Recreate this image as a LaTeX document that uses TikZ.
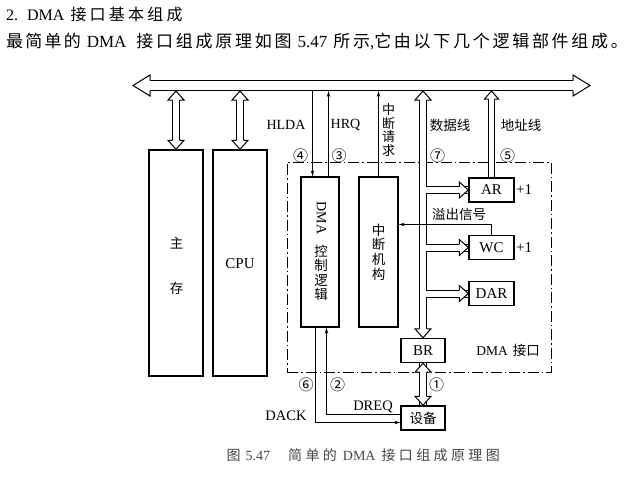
\documentclass[tikz,border=0pt]{standalone}
\usepackage{fontspec}
\setmainfont{Liberation Serif}
\newfontfamily\cjk{Noto Sans CJK SC}
\usetikzlibrary{arrows.meta}
\newcommand\zh[2][0]{{\cjk\addfontfeature{LetterSpace=#1}#2}}
\begin{document}
\begin{tikzpicture}[x=1pt,y=-1pt,
  box/.style={draw, line width=1.4pt, inner sep=0pt},
  lat/.style={inner sep=0pt, font=\fontsize{14}{14}\selectfont},
  blat/.style={inner sep=0pt, font=\fontsize{15}{15}\selectfont},
  zhl/.style={inner sep=0pt, font=\cjk\fontsize{13.5}{13.5}\selectfont},
  circ/.style={inner sep=0pt, font=\cjk\fontsize{15}{15}\selectfont},
  thinln/.style={line width=0.9pt},
  arr/.style={thinln, -{Stealth[length=6pt,width=3.4pt]}},
  dd/.style={draw, line width=0.9pt, dash pattern=on 11pt off 3pt on 1.5pt off 3pt, inner sep=0pt},
  outA/.style={line width=8pt},
  inA/.style={line width=6pt, white},
  outB/.style={line width=11pt},
  inB/.style={line width=9pt, white},
  outS/.style={line width=7pt},
  inS/.style={line width=5pt, white},
  hd/.pic={\filldraw[fill=white, line width=1pt, line join=miter] (-3.5,9) -- (-8,9) -- (0,0) -- (8,9) -- (3.5,9);},
  hdB/.pic={\filldraw[fill=white, line width=1pt, line join=miter] (-5,17) -- (-10.5,17) -- (0,0) -- (10.5,17) -- (5,17);},
  hdS/.pic={\filldraw[fill=white, line width=1pt, line join=miter] (-3,8) -- (-7,8) -- (0,0) -- (7,8) -- (3,8);}
]
\useasboundingbox (0,0) rectangle (637,477);
\fill[white] (0,0) rectangle (637,477);

% header text
\node[anchor=west, inner sep=0pt, font=\fontsize{16}{16}\selectfont] (h1) at (6,14)
  {2.\hspace{9pt}DMA\hspace{6pt}\zh[20]{接口基本组成}};
\node[anchor=west, inner sep=0pt, font=\fontsize{17}{17}\selectfont] (h2) at (6,42)
  {\zh[13]{最简单的}\hspace{6pt}DMA\hspace{10pt}\zh[16]{接口组成原理如图}\hspace{6pt}5.47\hspace{6pt}\zh[16]{所示},\zh[16]{它由以下几个逻辑部件组成。}};

% coordinates on the bus
\coordinate (busL) at (133,85.5);
\coordinate (busR) at (590,85.5);
\coordinate (busbot) at (0,91);
\coordinate (dbus) at (423,0);

% boxes
\node[box, minimum width=54pt, minimum height=226pt] (mem) at (176,263) {};
\node[box, minimum width=54pt, minimum height=226pt] (cpu) at (240,263) {};
\node[box, minimum width=38pt, minimum height=150pt] (dma) at (320,252) {};
\node[box, minimum width=39pt, minimum height=150pt] (intr) at (378.5,252) {};
\node[box, minimum width=45pt, minimum height=24pt, blat] (AR) at (491.5,190) {AR};
\node[box, minimum width=45pt, minimum height=24pt, blat] (WC) at (491.5,247.5) {WC};
\node[box, minimum width=45pt, minimum height=24pt, blat] (DAR) at (491.5,293.5) {DAR};
\node[box, minimum width=44pt, minimum height=24pt, blat] (BR) at (423,350.5) {BR};
\node[box, minimum width=44pt, minimum height=24pt, zhl] (dev) at (423,418) {设备};

% dash-dot interface frame
\node[dd, minimum width=264pt, minimum height=210pt] (iface) at (419,267) {};

% box texts
\node[zhl] (memA) at (176.5,243) {主};
\node[zhl] (memB) at (176.5,288) {存};
\node[blat] (cpuT) at (240,263.5) {CPU};
\node[lat, rotate=-90] (dmaT) at (321.5,218) {DMA};
\node[zhl, align=center, font=\cjk\fontsize{13.5}{14.3}\selectfont] (dmaZ) at (321,273) {控\\制\\逻\\辑};
\node[zhl, align=center, font=\cjk\fontsize{13.5}{14.7}\selectfont] (intrT) at (378.5,252) {中\\断\\机\\构};

% ---- double (hollow) arrows: black layer
\draw[outB] (149.5,85.5) -- (573.5,85.5);
\draw[outA] (mem.north |- 0,99) -- (mem.north |- 0,142);
\draw[outA] (cpu.north |- 0,99) -- (cpu.north |- 0,142);
\draw[outA] (dbus |- 0,99) -- (dbus |- 0,330);
\draw[outA] (dbus |- AR.west) -- (AR.west);
\draw[outA] (dbus |- WC.west) -- (WC.west);
\draw[outA] (dbus |- DAR.west) -- (DAR.west);
\draw[outS] (AR.north) -- (AR.north |- 0,98);
\draw[outA] (BR.south) -- (dev.north);
% white layer
\draw[inB] (149.5,85.5) -- (573.5,85.5);
\draw[inA] (mem.north |- 0,99) -- (mem.north |- 0,142);
\draw[inA] (cpu.north |- 0,99) -- (cpu.north |- 0,142);
\draw[inA] (dbus |- 0,99) -- (dbus |- 0,330);
\draw[inA] (dbus |- AR.west) -- (AR.west);
\draw[inA] (dbus |- WC.west) -- (WC.west);
\draw[inA] (dbus |- DAR.west) -- (DAR.west);
\draw[inS] (AR.north) -- (AR.north |- 0,98);
\draw[inA] (BR.south) -- (dev.north);
% heads
\pic[rotate=90] at (busL) {hdB};
\pic[rotate=-90] at (busR) {hdB};
\pic at (mem.north |- busbot) {hd};
\pic[rotate=180] at (mem.north) {hd};
\pic at (cpu.north |- busbot) {hd};
\pic[rotate=180] at (cpu.north) {hd};
\pic at (dbus |- busbot) {hd};
\pic[rotate=180] at (BR.north) {hd};
\pic[rotate=-90] at (AR.west) {hd};
\pic[rotate=-90] at (WC.west) {hd};
\pic[rotate=-90] at (DAR.west) {hd};
\pic at (AR.north |- busbot) {hdS};
\pic at (BR.south) {hd};
\pic[rotate=180] at (dev.north) {hd};

% thin signal lines
\coordinate (hlda) at (312.5,0);
\coordinate (hrq) at (328.5,0);
\coordinate (ovf) at (0,224.5);
\coordinate (dreq) at (326.5,414.5);
\coordinate (dack) at (315.5,422.5);
\draw[arr] (hlda |- busbot) -- (hlda |- dma.north);
\draw[arr] (hrq |- dma.north) -- (hrq |- busbot);
\draw[arr] (intr.north) -- (intr.north |- busbot);
\draw[arr] (WC.north) |- (intr.east |- ovf);
\draw[arr] (dev.west |- dreq) -- (dreq) -- (dreq |- dma.south);
\draw[arr] (dack |- dma.south) -- (dack) -- (dack -| dev.west);

% labels
\node[lat] (lhlda) at (286,125) {HLDA};
\node[lat] (lhrq) at (345.5,125) {HRQ};
\node[zhl, align=center, font=\cjk\fontsize{13}{13.5}\selectfont] (lint) at (388.5,130) {中\\断\\请\\求};
\node[zhl] (ldata) at (450,125) {数据线};
\node[zhl] (laddr) at (521,125) {地址线};
\node[circ] (c4) at (300.5,156) {④};
\node[circ] (c3) at (339,155.5) {③};
\node[circ] (c7) at (437.5,155.5) {⑦};
\node[circ] (c5) at (507.5,155.5) {⑤};
\node[blat, anchor=west] (p1a) at (516,190) {+1};
\node[blat, anchor=west] (p1b) at (516,247.5) {+1};
\node[zhl] (lovf) at (459,214) {溢出信号};
\node[inner sep=0pt, font=\fontsize{13.5}{13.5}\selectfont] (lif) at (508,350.5) {DMA\hspace{5pt}\zh{接口}};
\node[circ] (c6) at (306,385) {⑥};
\node[circ] (c2) at (337.5,385) {②};
\node[circ] (c1) at (436.5,385) {①};
\node[inner sep=0pt, font=\fontsize{14.5}{14.5}\selectfont] (ldack) at (286,416) {DACK};
\node[inner sep=0pt, font=\fontsize{14.5}{14.5}\selectfont] (ldreq) at (373,407) {DREQ};

% caption
\node[anchor=west, inner sep=0pt, text=black!72, font=\fontsize{14}{14}\selectfont] (cap) at (226.5,455)
  {\zh{图}\hspace{5pt}5.47\hspace{18pt}\zh[24]{简单的}\hspace{6pt}DMA\hspace{6pt}\zh[24]{接口组成原理图}};
\end{tikzpicture}
\end{document}
